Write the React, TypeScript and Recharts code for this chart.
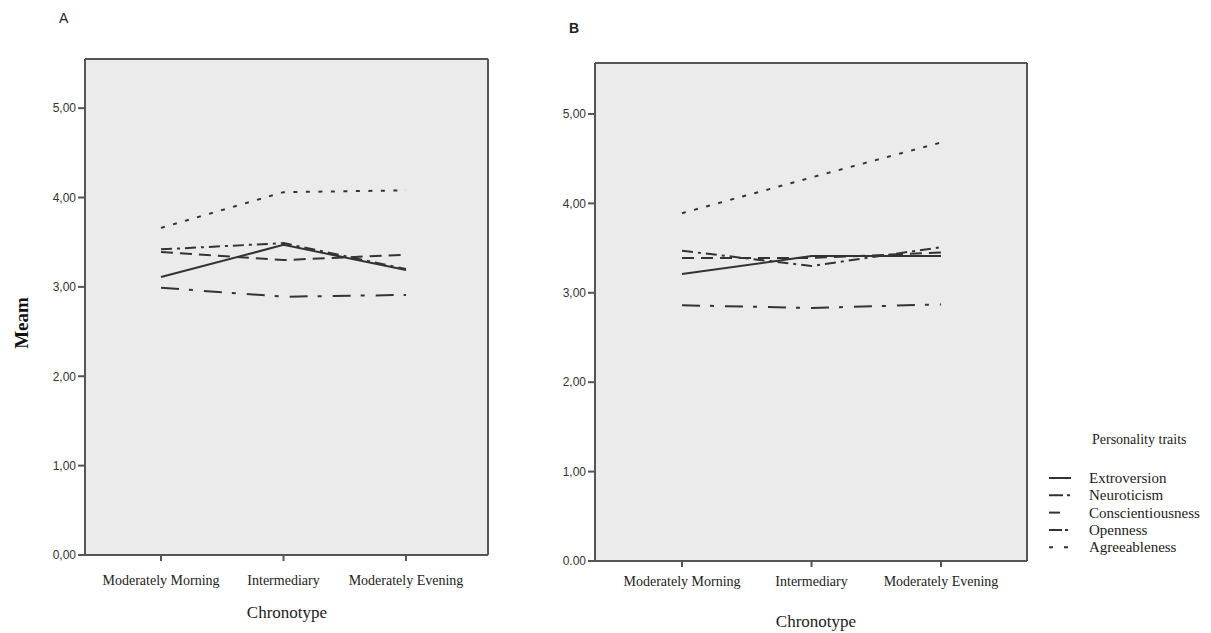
import React from 'react'
import { LineChart, Line, XAxis, YAxis, CartesianGrid } from 'recharts'

const chronotypes = ['Moderately Morning', 'Intermediary', 'Moderately Evening']
const traits = ['Extroversion', 'Neuroticism', 'Conscientiousness', 'Openness', 'Agreeableness']

// panel A means
const extroversionA = [3.11, 3.47, 3.19]
const neuroticismA = [2.99, 2.89, 2.91]
const conscientiousnessA = [3.39, 3.3, 3.36]
const opennessA = [3.42, 3.49, 3.2]
const agreeablenessA = [3.66, 4.06, 4.08]

// panel B means
const extroversionB = [3.21, 3.41, 3.41]
const neuroticismB = [2.86, 2.83, 2.87]
const conscientiousnessB = [3.39, 3.39, 3.45]
const opennessB = [3.47, 3.3, 3.51]
const agreeablenessB = [3.89, 4.29, 4.68]

const yTicks = [0, 1, 2, 3, 4, 5]
const yLabelsA = ['0,00', '1,00', '2,00', '3,00', '4,00', '5,00']
const yLabelsB = ['0.00', '1,00', '2,00', '3,00', '4,00', '5,00']

const DASH: Record<string, string> = {
  Extroversion: '0',
  Neuroticism: '18 10 4 11',
  Conscientiousness: '12 7',
  Openness: '11 5 3 5',
  Agreeableness: '4 8.5',
}

// the legend swatches are short, so they get a compressed version of each pattern
const LEGEND_DASH: Record<string, string> = {
  Extroversion: '0',
  Neuroticism: '14 4 3 10',
  Conscientiousness: '11 20',
  Openness: '13 3 3 10',
  Agreeableness: '4 11',
}

const LINE = '#333'
const FRAME = '#555'
const serif = '"Liberation Serif", "DejaVu Serif", serif'
const sans = '"Liberation Sans", Arial, sans-serif'

function rows(series: number[][]) {
  return chronotypes.map((c, i) => {
    const r: Record<string, string | number> = { chronotype: c }
    traits.forEach((t, k) => {
      r[t] = series[k][i]
    })
    return r
  })
}

const dataA = rows([extroversionA, neuroticismA, conscientiousnessA, opennessA, agreeablenessA])
const dataB = rows([extroversionB, neuroticismB, conscientiousnessB, opennessB, agreeablenessB])

function Panel({
  data,
  width,
  margin,
  padding,
  yMax,
  yLabels,
  tickGap,
}: {
  data: Record<string, string | number>[]
  width: number
  margin: { top: number; right: number; bottom: number; left: number }
  padding: { left: number; right: number }
  yMax: number
  yLabels: string[]
  tickGap: number
}) {
  return (
    <LineChart width={width} height={633} data={data} margin={margin}>
      {/* grey plot background, top + right frame edges drawn as the only grid lines */}
      <CartesianGrid
        fill="#ebebeb"
        stroke={FRAME}
        strokeWidth={2}
        horizontalCoordinatesGenerator={({ offset }: any) => [offset.top]}
        verticalCoordinatesGenerator={({ offset }: any) => [offset.left + offset.width]}
      />
      <XAxis
        dataKey="chronotype"
        padding={padding}
        height={40}
        stroke={FRAME}
        strokeWidth={2}
        tickSize={6}
        tickMargin={tickGap}
        interval={0}
        tick={{ fontFamily: serif, fontSize: 14, fill: '#222' }}
      />
      <YAxis
        domain={[0, yMax]}
        ticks={yTicks}
        width={45}
        stroke={FRAME}
        strokeWidth={2}
        tickSize={7}
        tickMargin={2}
        tickFormatter={(v: number) => yLabels[yTicks.indexOf(v)] ?? ''}
        tick={{ fontFamily: sans, fontSize: 12, fill: '#333' }}
      />
      {traits.map((t) => (
        <Line
          key={t}
          dataKey={t}
          stroke={LINE}
          strokeWidth={2}
          strokeDasharray={DASH[t]}
          dot={false}
          activeDot={false}
          isAnimationActive={false}
        />
      ))}
    </LineChart>
  )
}

export default function App() {
  return (
    <div style={{ position: 'absolute', left: 0, top: 0, width: 1211, height: 633, background: '#fff' }}>
      <div style={{ position: 'absolute', left: 0, top: 0 }}>
        <Panel
          data={dataA}
          width={500}
          margin={{ top: 59, right: 12, bottom: 38, left: 40 }}
          padding={{ left: 76, right: 82 }}
          yMax={5.55}
          yLabels={yLabelsA}
          tickGap={14}
        />
      </div>
      <div style={{ position: 'absolute', left: 500, top: 0 }}>
        <Panel
          data={dataB}
          width={540}
          margin={{ top: 63, right: 13, bottom: 32, left: 50 }}
          padding={{ left: 87, right: 86 }}
          yMax={5.57}
          yLabels={yLabelsB}
          tickGap={9}
        />
      </div>

      <div style={{ position: 'absolute', left: 59, top: 10, fontFamily: sans, fontSize: 14, color: '#222' }}>A</div>
      <div style={{ position: 'absolute', left: 569, top: 20, fontFamily: sans, fontSize: 14, fontWeight: 'bold', color: '#222' }}>B</div>
      <div
        style={{
          position: 'absolute',
          left: 22,
          top: 323,
          transform: 'translate(-50%, -50%) rotate(-90deg)',
          fontFamily: serif,
          fontSize: 19,
          fontWeight: 'bold',
          color: '#111',
          whiteSpace: 'nowrap',
        }}
      >
        Meam
      </div>
      <div style={{ position: 'absolute', left: 287, top: 613, transform: 'translate(-50%, -50%)', fontFamily: serif, fontSize: 17, color: '#222', whiteSpace: 'nowrap' }}>
        Chronotype
      </div>
      <div style={{ position: 'absolute', left: 816, top: 622, transform: 'translate(-50%, -50%)', fontFamily: serif, fontSize: 17, color: '#222', whiteSpace: 'nowrap' }}>
        Chronotype
      </div>

      <svg style={{ position: 'absolute', left: 1040, top: 425 }} width={171} height={135}>
        <text x={52} y={19} fontFamily={serif} fontSize={14} fill="#222">
          Personality traits
        </text>
        {traits.map((t, i) => (
          <g key={t} transform={`translate(0, ${53 + i * 17.3})`}>
            <line x1={9} x2={31} y1={0} y2={0} stroke={LINE} strokeWidth={2} strokeDasharray={LEGEND_DASH[t]} />
            <text x={49} y={5} fontFamily={serif} fontSize={15} fill="#222">
              {t}
            </text>
          </g>
        ))}
      </svg>
    </div>
  )
}
